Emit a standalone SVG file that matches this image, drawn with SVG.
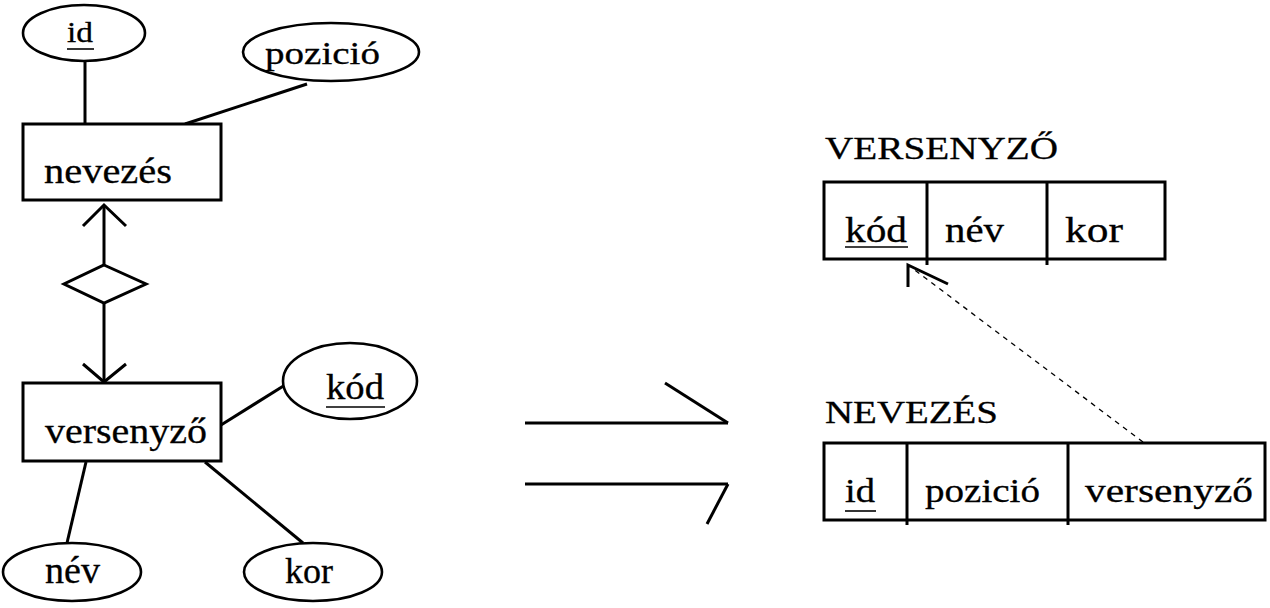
<svg xmlns="http://www.w3.org/2000/svg" width="1270" height="608" viewBox="0 0 1270 608">
<style>
  .bg { fill: #ffffff; }
  .shape { fill: #ffffff; stroke: #000000; stroke-width: 3; }
  .ell { fill: #ffffff; stroke: #000000; stroke-width: 2.6; }
  .ln { fill: none; stroke: #000000; stroke-width: 3; stroke-linecap: butt; stroke-linejoin: miter; }
  .ul { stroke: #000000; stroke-width: 1.6; }
  .dash { fill: none; stroke: #000000; stroke-width: 1.3; stroke-dasharray: 5 5; }
  .lbl { fill: #000000; stroke: #000000; stroke-width: 0.3; }
</style>
<rect class="bg" x="0" y="0" width="1270" height="608"/>

<g id="connectors">
  <line class="ln" x1="85" y1="60" x2="85" y2="124"/>
  <line class="ln" x1="307" y1="84" x2="185" y2="124"/>
  <line class="ln" x1="104" y1="206" x2="104" y2="265"/>
  <polyline class="ln" points="83,226 104,205 126,226"/>
  <line class="ln" x1="104" y1="303" x2="104" y2="381"/>
  <polyline class="ln" points="83,364 104,382 126,364"/>
  <line class="ln" x1="285" y1="385" x2="221" y2="425"/>
  <line class="ln" x1="86" y1="462" x2="67" y2="543"/>
  <line class="ln" x1="205" y1="462" x2="303" y2="543"/>
  <line class="ln" x1="525" y1="423" x2="728" y2="423"/>
  <line class="ln" x1="728" y1="423" x2="665" y2="383"/>
  <line class="ln" x1="525" y1="484" x2="728" y2="484"/>
  <line class="ln" x1="728" y1="484" x2="707" y2="524"/>
  <line class="dash" x1="1143" y1="442" x2="912" y2="268"/>
  <polyline class="ln" points="908,287 908,265 948,284"/>
</g>

<g id="attr-id">
  <ellipse class="ell" cx="84" cy="33" rx="61" ry="28"/>
  <text class="lbl" font-family="Liberation Serif, Times New Roman, DejaVu Serif, serif" x="67" y="42" font-size="29" textLength="26" lengthAdjust="spacingAndGlyphs">id</text>
  <line class="ul" x1="67" y1="49" x2="94" y2="49"/>
</g>

<g id="attr-pozicio">
  <ellipse class="ell" cx="331" cy="52" rx="88" ry="29"/>
  <text class="lbl" font-family="Liberation Serif, Times New Roman, DejaVu Serif, serif" x="265" y="64" font-size="32" textLength="115" lengthAdjust="spacingAndGlyphs">pozició</text>
</g>

<g id="entity-nevezes">
  <rect class="shape" x="23" y="124" width="198" height="76"/>
  <text class="lbl" font-family="Liberation Serif, Times New Roman, DejaVu Serif, serif" x="44" y="183" font-size="36" textLength="128" lengthAdjust="spacingAndGlyphs">nevezés</text>
</g>

<g id="relationship">
  <polygon class="shape" points="104,265 146,284 104,303 64,284"/>
</g>

<g id="entity-versenyzo">
  <rect class="shape" x="23" y="383" width="198" height="78"/>
  <text class="lbl" font-family="Liberation Serif, Times New Roman, DejaVu Serif, serif" x="45" y="443" font-size="36" textLength="162" lengthAdjust="spacingAndGlyphs">versenyző</text>
</g>

<g id="attr-kod">
  <ellipse class="ell" cx="350" cy="381" rx="67" ry="38"/>
  <text class="lbl" font-family="Liberation Serif, Times New Roman, DejaVu Serif, serif" x="326" y="399" font-size="35" textLength="58" lengthAdjust="spacingAndGlyphs">kód</text>
  <line class="ul" x1="326" y1="407" x2="385" y2="407"/>
</g>

<g id="attr-nev">
  <ellipse class="ell" cx="72" cy="572" rx="69" ry="29"/>
  <text class="lbl" font-family="Liberation Serif, Times New Roman, DejaVu Serif, serif" x="45" y="583" font-size="38" textLength="55" lengthAdjust="spacingAndGlyphs">név</text>
</g>

<g id="attr-kor">
  <ellipse class="ell" cx="313" cy="572" rx="69" ry="29"/>
  <text class="lbl" font-family="Liberation Serif, Times New Roman, DejaVu Serif, serif" x="285" y="583" font-size="36" textLength="48" lengthAdjust="spacingAndGlyphs">kor</text>
</g>

<g id="table-versenyzo">
  <text class="lbl" font-family="Liberation Serif, Times New Roman, DejaVu Serif, serif" x="825" y="159" font-size="32" textLength="233" lengthAdjust="spacingAndGlyphs">VERSENYZŐ</text>
  <rect class="shape" x="824" y="182" width="341" height="77"/>
  <line class="ln" x1="927" y1="182" x2="927" y2="265"/>
  <line class="ln" x1="1047" y1="182" x2="1047" y2="265"/>
  <text class="lbl" font-family="Liberation Serif, Times New Roman, DejaVu Serif, serif" x="845" y="242" font-size="36" textLength="62" lengthAdjust="spacingAndGlyphs">kód</text>
  <line class="ul" x1="845" y1="247" x2="908" y2="247"/>
  <text class="lbl" font-family="Liberation Serif, Times New Roman, DejaVu Serif, serif" x="945" y="242" font-size="36" textLength="59" lengthAdjust="spacingAndGlyphs">név</text>
  <text class="lbl" font-family="Liberation Serif, Times New Roman, DejaVu Serif, serif" x="1065" y="242" font-size="36" textLength="58" lengthAdjust="spacingAndGlyphs">kor</text>
</g>

<g id="table-nevezes">
  <text class="lbl" font-family="Liberation Serif, Times New Roman, DejaVu Serif, serif" x="825" y="423" font-size="31" textLength="173" lengthAdjust="spacingAndGlyphs">NEVEZÉS</text>
  <rect class="shape" x="824" y="443" width="441" height="77"/>
  <line class="ln" x1="907" y1="443" x2="907" y2="525"/>
  <line class="ln" x1="1068" y1="443" x2="1068" y2="525"/>
  <text class="lbl" font-family="Liberation Serif, Times New Roman, DejaVu Serif, serif" x="845" y="502" font-size="34" textLength="30" lengthAdjust="spacingAndGlyphs">id</text>
  <line class="ul" x1="845" y1="511" x2="876" y2="511"/>
  <text class="lbl" font-family="Liberation Serif, Times New Roman, DejaVu Serif, serif" x="925" y="502" font-size="34" textLength="115" lengthAdjust="spacingAndGlyphs">pozició</text>
  <text class="lbl" font-family="Liberation Serif, Times New Roman, DejaVu Serif, serif" x="1085" y="502" font-size="34" textLength="168" lengthAdjust="spacingAndGlyphs">versenyző</text>
</g>
</svg>
